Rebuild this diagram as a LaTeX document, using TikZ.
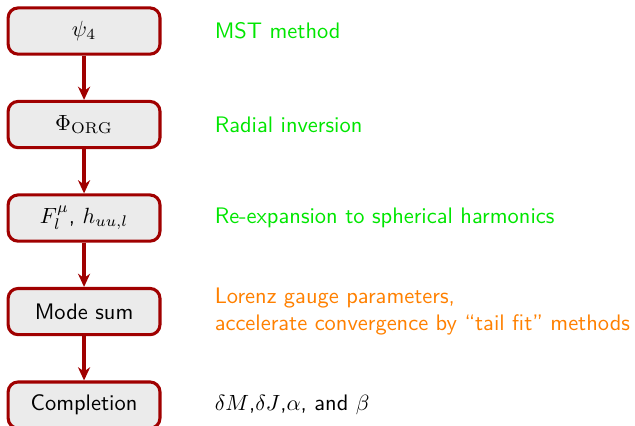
\documentclass[tikz,border=0pt]{standalone}
\usepackage{fontspec}
\usetikzlibrary{arrows.meta,positioning}
\definecolor{darkred}{RGB}{160,0,0}
\definecolor{boxgray}{RGB}{235,235,235}
\definecolor{stepgreen}{RGB}{0,230,0}
\definecolor{steporange}{RGB}{255,128,0}

\begin{document}
\begin{tikzpicture}[node distance=20.1pt and 24pt,font=\fontsize{10.2}{12.6}\selectfont\sffamily,box/.style={draw=darkred,fill=boxgray,line width=1.4pt,rounded corners=4.5pt,minimum width=69pt,minimum height=21pt},arr/.style={draw=darkred,line width=1.5pt,-{Stealth[length=6pt,width=5.5pt]}},note/.style={align=left,inner sep=0pt}]
\useasboundingbox (0,0) rectangle (288.6pt,-193.6pt);
\node[box] (psi) at (38.2pt,-14.1pt) {$\psi_4$};
\node[box,below=of psi] (phi) {$\Phi_{\mathrm{ORG}}$};
\node[box,below=of phi] (fh) {$F_l^\mu$, $h_{uu,l}$};
\node[box,below=of fh] (ms) {Mode sum};
\node[box,below=of ms] (cp) {Completion};
\node[note,right=of psi,text=stepgreen] (mst) {MST method};
\node[note,right=of phi,text=stepgreen] (rad) {Radial inversion};
\node[note,right=of fh,text=stepgreen] (rex) {Re-expansion to spherical harmonics};
\node[note,right=of ms,text=steporange] (lor) {Lorenz gauge parameters,\\accelerate convergence by ``tail fit'' methods};
\node[note,right=of cp] (dm) {$\delta M$,$\delta J$,$\alpha$, and $\beta$};
\draw[arr](psi)--(phi);\draw[arr](phi)--(fh);\draw[arr](fh)--(ms);\draw[arr](ms)--(cp);
\end{tikzpicture}
\end{document}
